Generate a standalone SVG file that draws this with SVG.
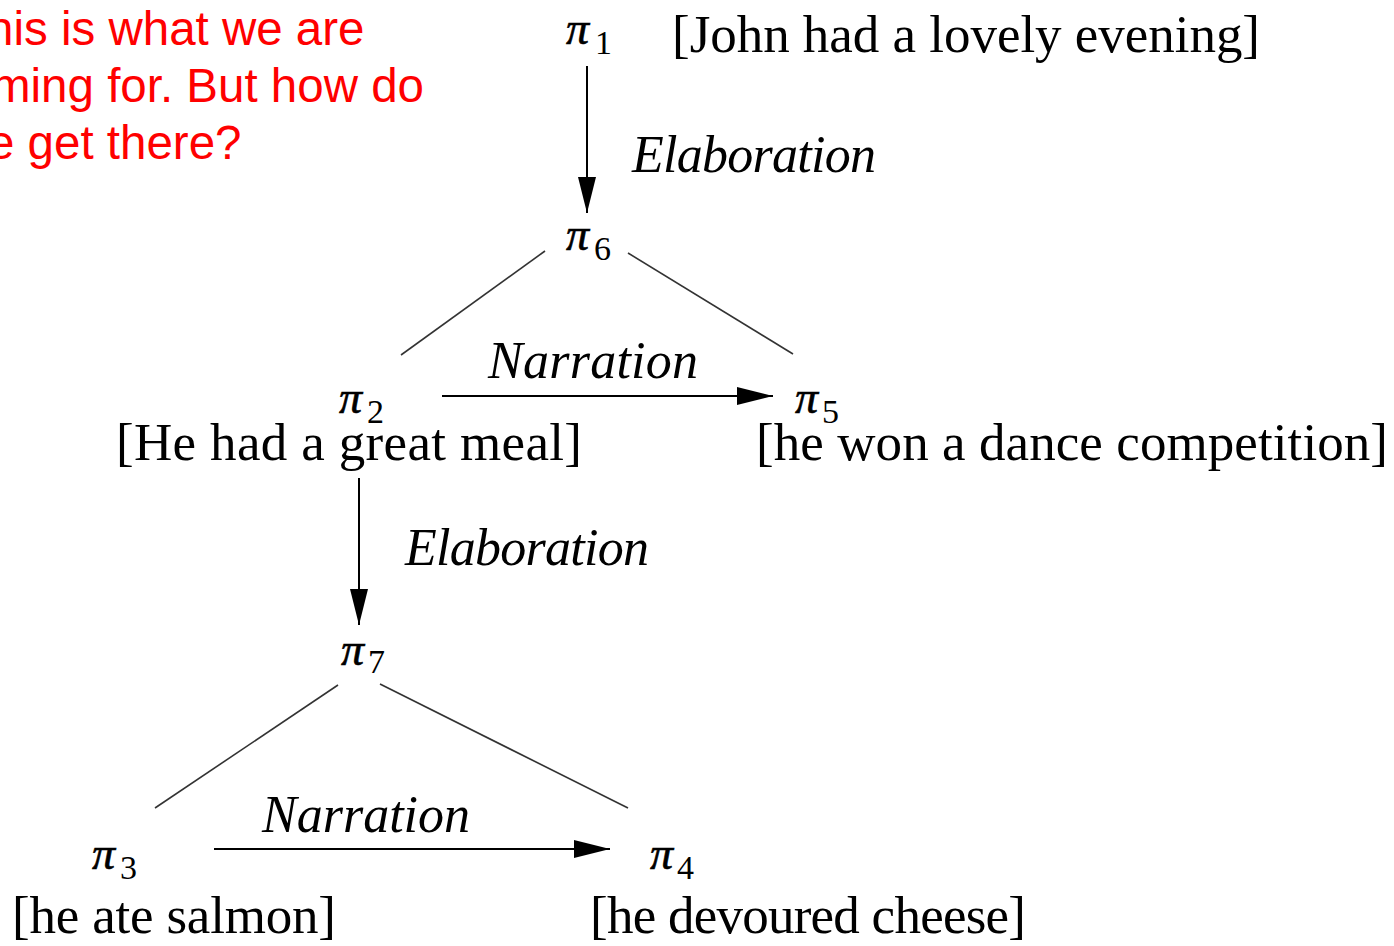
<svg xmlns="http://www.w3.org/2000/svg" width="1394" height="946" viewBox="0 0 1394 946">
  <style>
    .note { font-family: "Liberation Sans", Arial, sans-serif; font-size: 47.5px; fill: #ff0000; }
    .seg  { font-family: "Liberation Serif", "Times New Roman", serif; font-size: 53px; fill: #000; }
    .rel  { font-family: "Liberation Serif", "Times New Roman", serif; font-style: italic; font-size: 52px; fill: #000; }
    .pi   { font-family: "Liberation Serif", "Times New Roman", serif; font-style: italic; font-size: 46px; fill: #000; stroke: #000; stroke-width: 0.6; }
    .sub  { font-family: "Liberation Serif", "Times New Roman", serif; font-style: normal; font-size: 34px; fill: #000; }
    .edge { stroke: #000; stroke-width: 2; fill: none; }
    .dom  { stroke: #333; stroke-width: 1.6; fill: none; }
  </style>
  <defs>
    <marker id="head" viewBox="0 0 36 18" refX="36" refY="9" markerWidth="36" markerHeight="18" markerUnits="userSpaceOnUse" orient="auto">
      <path d="M0,0 L36,9 L0,18 Z" fill="#000"/>
    </marker>
  </defs>

  <rect width="1394" height="946" fill="#fff"/>

  <!-- margin note -->
  <g id="note">
    <text class="note" x="-13" y="45">his is what we are</text>
    <text class="note" x="-9" y="102">ming for. But how do</text>
    <text class="note" x="-12" y="159">e get there?</text>
  </g>

  <!-- connectors -->
  <g id="connectors">
    <line class="edge" x1="587" y1="66" x2="587" y2="213" marker-end="url(#head)"/>
    <line class="dom" x1="545" y1="251" x2="401" y2="355"/>
    <line class="dom" x1="628" y1="253" x2="793" y2="354"/>
    <line class="edge" x1="442" y1="396" x2="773" y2="396" marker-end="url(#head)"/>
    <line class="edge" x1="359" y1="478" x2="359" y2="625" marker-end="url(#head)"/>
    <line class="dom" x1="338" y1="685" x2="155" y2="808"/>
    <line class="dom" x1="380" y1="684" x2="628" y2="808"/>
    <line class="edge" x1="214" y1="849" x2="610" y2="849" marker-end="url(#head)"/>
    <text class="rel" x="632" y="172" textLength="244">Elaboration</text>
    <text class="rel" x="488" y="378" textLength="210">Narration</text>
    <text class="rel" x="405" y="565" textLength="244">Elaboration</text>
    <text class="rel" x="262" y="832" textLength="208">Narration</text>
  </g>

  <!-- discourse units -->
  <g id="pi1">
    <text class="pi" x="566" y="44">π</text>
    <text class="sub" x="595" y="54">1</text>
    <text class="seg" x="672" y="52" textLength="588">[John had a lovely evening]</text>
  </g>
  <g id="pi6">
    <text class="pi" x="566" y="250">π</text>
    <text class="sub" x="594" y="260">6</text>
  </g>
  <g id="pi2">
    <text class="pi" x="339" y="413">π</text>
    <text class="sub" x="367" y="423">2</text>
    <text class="seg" x="116" y="460" textLength="466">[He had a great meal]</text>
  </g>
  <g id="pi5">
    <text class="pi" x="795" y="413">π</text>
    <text class="sub" x="822" y="423">5</text>
    <text class="seg" x="756" y="460" textLength="632">[he won a dance competition]</text>
  </g>
  <g id="pi7">
    <text class="pi" x="341" y="665">π</text>
    <text class="sub" x="368" y="673">7</text>
  </g>
  <g id="pi3">
    <text class="pi" x="92" y="869">π</text>
    <text class="sub" x="120" y="879">3</text>
    <text class="seg" x="12" y="933" textLength="324">[he ate salmon]</text>
  </g>
  <g id="pi4">
    <text class="pi" x="650" y="869">π</text>
    <text class="sub" x="677" y="879">4</text>
    <text class="seg" x="590" y="933" textLength="436">[he devoured cheese]</text>
  </g>
</svg>
